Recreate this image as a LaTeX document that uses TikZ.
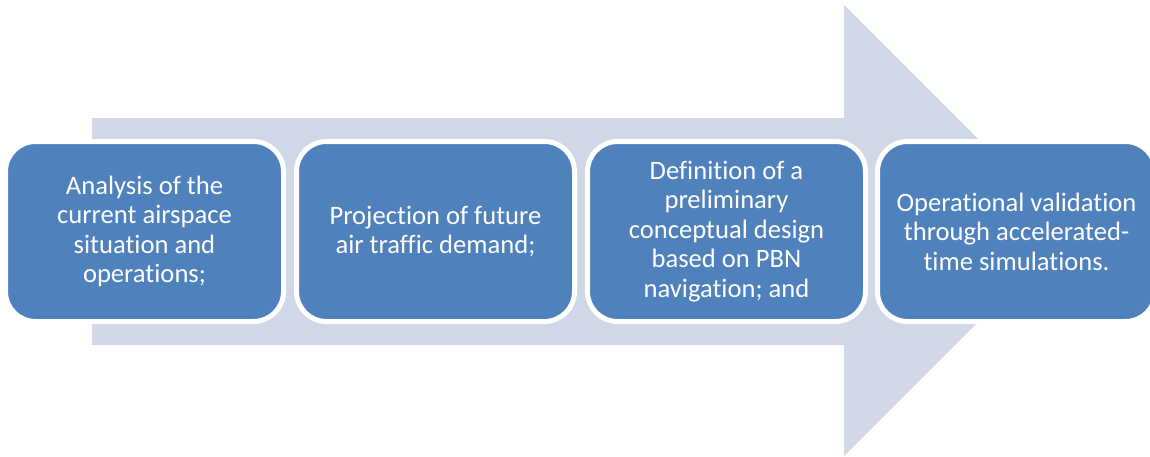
\documentclass[tikz,border=0pt]{standalone}
\usepackage{fontspec}
\setmainfont{Carlito}[Ligatures=NoCommon]
\definecolor{boxblue}{HTML}{4F81BD}
\definecolor{arrowgray}{HTML}{D0D8E8}
\begin{document}
\begin{tikzpicture}[x=1pt,y=-1pt,
  stepbox/.style={draw=white, line width=5pt, fill=boxblue, rounded corners=30pt,
    minimum width=278pt, minimum height=180pt, inner sep=0pt, text=white,
    align=center, font=\fontsize{26.6}{29.5}\selectfont}]
\useasboundingbox (0,0) rectangle (1150,456);
\clip (0,0) rectangle (1150,456);
\fill[arrowgray] (92,118) -- (844,118) -- (844,5) -- (1069.5,230.5) -- (844,456) -- (844,345) -- (92,345) -- cycle;
\node[stepbox] (b1) at (144.5,231.5) {Analysis of the\\current airspace\\situation and\\operations;};
\node[stepbox] (b2) at (435.5,231.5) {Projection of future\\air traffic demand;};
\node[stepbox] (b3) at (726.5,231.5) {Definition of a\\preliminary\\conceptual design\\based on PBN\\navigation; and};
\node[stepbox] (b4) at (1016.5,231.5) {Operational validation\\through accelerated-\\time simulations.};
\end{tikzpicture}
\end{document}
